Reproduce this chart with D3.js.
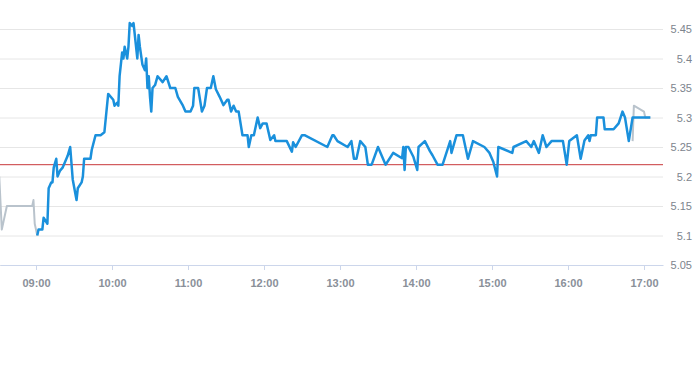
<!DOCTYPE html>
<html>
<head>
<meta charset="utf-8">
<script src="https://cdn.jsdelivr.net/npm/d3@7"></script>
<style>
  body { margin: 0; background: #fff; }
  svg { display: block; font-family: "Liberation Sans", Arial, sans-serif; }
</style>
</head>
<body>
<div id="chart"></div>
<script>
// ----- DATA -----
// regular session (blue)
const sessionTimes = [
  "09:01","09:02","09:05","09:06","09:09","09:10","09:12","09:13","09:14","09:16",
  "09:17","09:19","09:21","09:24","09:25","09:27","09:29","09:32","09:33","09:36",
  "09:37","09:38","09:43","09:44","09:47","09:51","09:54","09:57","10:01","10:02",
  "10:04","10:05","10:06","10:08","10:09","10:10","10:12","10:13","10:14","10:16",
  "10:17","10:18","10:20","10:21","10:22","10:24","10:26","10:27","10:28","10:29",
  "10:30","10:31","10:32","10:34","10:36","10:40","10:43","10:46","10:50","10:52",
  "10:56","10:58","11:02","11:04","11:05","11:08","11:11","11:13","11:15","11:18",
  "11:20","11:22","11:25","11:28","11:31","11:32","11:34","11:36","11:38","11:40",
  "11:43","11:47","11:48","11:50","11:52","11:55","11:57","11:59","12:02","12:05",
  "12:08","12:09","12:18","12:22","12:23","12:25","12:30","12:32","12:50","12:54",
  "12:55","12:58","13:06","13:09","13:11","13:13","13:16","13:20","13:22","13:25",
  "13:30","13:36","13:42","13:49","13:50","13:51","13:52","13:54","13:58","14:01",
  "14:02","14:07","14:11","14:13","14:17","14:21","14:27","14:28","14:32","14:37",
  "14:41","14:45","14:54","14:58","15:01","15:04","15:05","15:16","15:17","15:27",
  "15:31","15:33","15:37","15:40","15:43","15:47","15:56","15:59","16:01","16:07",
  "16:10","16:13","16:16","16:17","16:18","16:22","16:23","16:28","16:29","16:36",
  "16:40","16:43","16:45","16:48","16:51","17:05"
];
const sessionValues = [
  5.10,5.11,5.11,5.13,5.12,5.18,5.19,5.19,5.215,5.23,
  5.20,5.21,5.215,5.23,5.235,5.25,5.195,5.16,5.18,5.19,
  5.20,5.23,5.23,5.245,5.27,5.27,5.275,5.34,5.33,5.32,
  5.325,5.32,5.37,5.41,5.40,5.42,5.40,5.42,5.46,5.455,
  5.46,5.44,5.40,5.44,5.42,5.39,5.38,5.40,5.35,5.37,
  5.335,5.31,5.35,5.355,5.37,5.36,5.37,5.35,5.35,5.335,
  5.32,5.31,5.31,5.32,5.35,5.35,5.31,5.32,5.35,5.35,
  5.37,5.348,5.335,5.321,5.33,5.33,5.31,5.32,5.31,5.31,
  5.27,5.27,5.25,5.27,5.27,5.30,5.282,5.29,5.29,5.262,
  5.27,5.26,5.26,5.242,5.258,5.25,5.27,5.27,5.25,5.27,
  5.27,5.26,5.25,5.26,5.23,5.23,5.26,5.25,5.22,5.22,
  5.25,5.22,5.24,5.231,5.25,5.211,5.25,5.25,5.233,5.211,
  5.25,5.26,5.243,5.236,5.22,5.22,5.26,5.24,5.27,5.27,
  5.23,5.26,5.25,5.24,5.225,5.20,5.25,5.24,5.25,5.26,
  5.25,5.26,5.24,5.27,5.25,5.26,5.26,5.22,5.26,5.27,
  5.23,5.261,5.27,5.26,5.27,5.27,5.30,5.30,5.28,5.28,
  5.29,5.31,5.30,5.26,5.30,5.30
];

// extended hours (grey)
const preTimes = ["08:31","08:33","08:37","08:57","08:58","08:59","09:00","09:01"];
const preValues = [5.20,5.11,5.15,5.15,5.16,5.12,5.11,5.10];
const postTimes = ["16:51","16:52","17:00","17:01","17:05"];
const postValues = [5.26,5.32,5.31,5.30,5.30];

// previous close (red)
const prevClose = 5.22;

const yTicks = [5.05, 5.1, 5.15, 5.2, 5.25, 5.3, 5.35, 5.4, 5.45];
const xTickLabels = ["09:00","10:00","11:00","12:00","13:00","14:00","15:00","16:00","17:00"];

// ----- CHART -----
const width = 693, height = 365;
const plot = { left: 0, right: 663, top: 29, bottom: 265 };

const parse = d3.timeParse("%H:%M");
const parseS = d3.timeParse("%H:%M:%S");
const zip = (ts, vs) => ts.map((t, i) => ({ t: parse(t), v: vs[i] }));

const session = zip(sessionTimes, sessionValues);
const pre = zip(preTimes, preValues);
const post = zip(postTimes, postValues);

const x = d3.scaleTime()
  .domain([parseS("08:31:35"), parseS("17:15:00")])
  .range([plot.left, plot.right]);

const y = d3.scaleLinear()
  .domain([5.05, 5.45])
  .range([plot.bottom, plot.top]);

const svg = d3.select("#chart")
  .append("svg")
  .attr("width", width)
  .attr("height", height);

// gridlines + right-hand labels
const yAxis = d3.axisRight(y)
  .tickValues(yTicks)
  .tickSize(plot.right - plot.left)
  .tickFormat(d3.format("~g"));

svg.append("g")
  .attr("transform", `translate(${plot.left},0)`)
  .call(yAxis)
  .call(g => g.select(".domain").remove())
  .call(g => g.selectAll("line").attr("stroke", "#e6e6e6"))
  .call(g => g.selectAll("text")
    .attr("x", width - 1)
    .attr("text-anchor", "end")
    .attr("fill", "#7d848d")
    .style("font-size", "11px"));

// bottom axis
const xAxis = d3.axisBottom(x)
  .tickValues(xTickLabels.map(parse))
  .tickSize(5)
  .tickSizeOuter(0)
  .tickFormat(d3.timeFormat("%H:%M"));

svg.append("g")
  .attr("transform", `translate(0,${plot.bottom})`)
  .call(xAxis)
  .call(g => g.select(".domain").attr("stroke", "#ccd6eb"))
  .call(g => g.selectAll("line").attr("stroke", "#ccd6eb"))
  .call(g => g.selectAll("text")
    .attr("y", 14)
    .attr("fill", "#8a9099")
    .style("font-size", "11px")
    .style("font-weight", "bold"));

const line = d3.line()
  .x(d => x(d.t))
  .y(d => y(d.v));

// extended hours lines
[pre, post].forEach(series => {
  svg.append("path")
    .datum(series)
    .attr("fill", "none")
    .attr("stroke", "#b9c3cc")
    .attr("stroke-width", 2)
    .attr("stroke-linejoin", "round")
    .attr("d", line);
});

// previous close
svg.append("line")
  .attr("x1", plot.left)
  .attr("x2", plot.right)
  .attr("y1", y(prevClose))
  .attr("y2", y(prevClose))
  .attr("stroke", "#c8383a")
  .attr("stroke-width", 1);

// regular session
svg.append("path")
  .datum(session)
  .attr("fill", "none")
  .attr("stroke", "#1a90dc")
  .attr("stroke-width", 2.5)
  .attr("stroke-linejoin", "round")
  .attr("d", line);
</script>
</body>
</html>
